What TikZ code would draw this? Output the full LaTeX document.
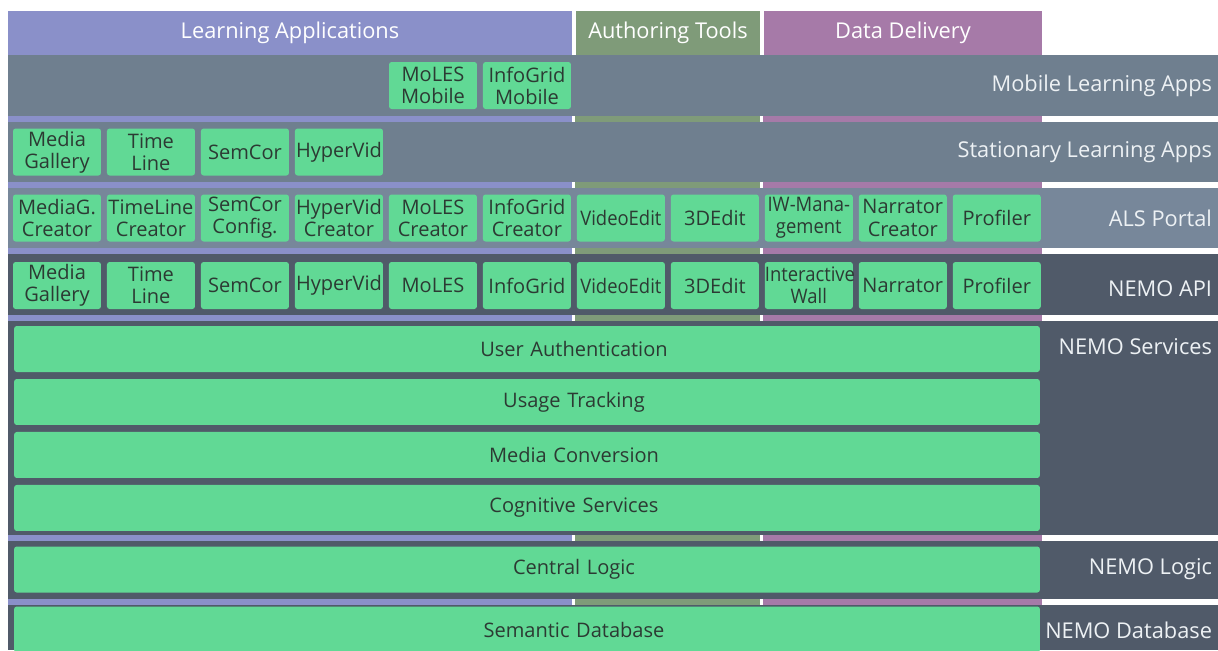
\documentclass[tikz,border=0pt]{standalone}
\usepackage{fontspec}
\setmainfont{Open Sans}
\newfontfamily\narrowfont[FakeStretch=0.92]{Open Sans}
\usepackage{tikz}
\usetikzlibrary{positioning}

\definecolor{learnblue}{HTML}{8A90C9}
\definecolor{authorgreen}{HTML}{7F9B79}
\definecolor{deliverypurple}{HTML}{A67AA8}
\definecolor{boxgreen}{HTML}{61D995}
\definecolor{boxtext}{HTML}{2C3A33}
\definecolor{bandlight}{HTML}{6F7F8F}
\definecolor{bandmid}{HTML}{77879A}
\definecolor{banddark}{HTML}{505A69}
\definecolor{labeltext}{HTML}{EDF1F4}

\newcommand{\appfont}{\fontsize{11.4}{12.6}\selectfont}
\newcommand{\layerfont}{\fontsize{12.4}{14}\selectfont}

\begin{document}
\begin{tikzpicture}[x=0.02cm, y=-0.02cm, node distance=0.12cm,
    every node/.style={inner sep=0pt, outer sep=0pt, align=center},
    app/.style={fill=boxgreen, text=boxtext, rounded corners=1.5pt, text width=1.76cm, minimum height=0.94cm, font=\appfont},
    service/.style={app, text width=20.52cm, minimum height=0.92cm, execute at begin node=\hspace*{1.88cm}},
    head/.style={text=white, minimum height=0.88cm, font=\layerfont},
    layer/.style={anchor=east, text=labeltext, font=\layerfont}]

    \useasboundingbox (0,0) rectangle (1218,650);

    % Layer bands and coloured separators
    \fill[banddark] (8,55) rectangle (1218,650);
    \fill[bandlight] (8,55) rectangle (1218,182);
    \fill[bandmid] (8,188) rectangle (1218,248);
    \foreach \s in {116,182,248,315,535,599} {
        \fill[white] (8,\s) rectangle (1218,\s+6);
        \fill[learnblue] (8,\s) rectangle (572,\s+6);
        \fill[authorgreen] (575,\s) rectangle (760,\s+6);
        \fill[deliverypurple] (763,\s) rectangle (1042,\s+6);
    }

    % Column headers
    \node[head, fill=learnblue, minimum width=11.28cm] (learn) at (290,33) {Learning Applications};
    \node[head, fill=authorgreen, minimum width=3.68cm] (author) at (668,33) {Authoring Tools};
    \node[head, fill=deliverypurple, minimum width=5.56cm] (deliver) at (903,33) {Data Delivery};

    % Mobile learning apps
    \node[app] (m5) at (433,85.5) {MoLES\\Mobile};
    \node[app, right=of m5] (m6) {InfoGrid\\Mobile};

    % Stationary learning apps
    \node[app] (s1) at (57,152) {Media\\Gallery};
    \node[app, right=of s1] (s2) {Time\\Line};
    \node[app, right=of s2] (s3) {SemCor};
    \node[app, right=of s3] (s4) {HyperVid};

    % ALS portal
    \node[app] (p1) at (57,218) {MediaG.\\Creator};
    \node[app, right=of p1] (p2) {TimeLine\\Creator};
    \node[app, right=of p2] (p3) {SemCor\\Config.};
    \node[app, right=of p3] (p4) {HyperVid\\Creator};
    \node[app, right=of p4] (p5) {MoLES\\Creator};
    \node[app, right=of p5] (p6) {InfoGrid\\Creator};
    \node[app, right=of p6] (p7) {\narrowfont VideoEdit};
    \node[app, right=of p7] (p8) {3DEdit};
    \node[app, right=of p8] (p9) {\narrowfont\mbox{IW-Mana-}\\\narrowfont gement};
    \node[app, right=of p9] (p10) {Narrator\\Creator};
    \node[app, right=of p10] (p11) {Profiler};

    % NEMO API
    \node[app] (a1) at (57,285.5) {Media\\Gallery};
    \node[app, right=of a1] (a2) {Time\\Line};
    \node[app, right=of a2] (a3) {SemCor};
    \node[app, right=of a3] (a4) {HyperVid};
    \node[app, right=of a4] (a5) {MoLES};
    \node[app, right=of a5] (a6) {InfoGrid};
    \node[app, right=of a6] (a7) {\narrowfont VideoEdit};
    \node[app, right=of a7] (a8) {3DEdit};
    \node[app, right=of a8] (a9) {\narrowfont Interactive\\\narrowfont Wall};
    \node[app, right=of a9] (a10) {Narrator};
    \node[app, right=of a10] (a11) {Profiler};

    % Services, logic and database
    \node[service] (auth) at (527,349) {User Authentication};
    \node[service, below=0.14cm of auth] (usage) {Usage Tracking};
    \node[service, below=0.14cm of usage] (conv) {Media Conversion};
    \node[service, below=0.14cm of conv] (cogn) {Cognitive Services};
    \node[service] (logic) at (527,569.5) {Central Logic};
    \node[service] (db) at (527,629.5) {Semantic Database};

    % Layer names
    \node[layer] (lmob) at (1212,86) {Mobile Learning Apps};
    \node[layer] (lsta) at (1212,152) {Stationary Learning Apps};
    \node[layer] (lals) at (1212,218) {ALS Portal};
    \node[layer] (lapi) at (1212,289) {NEMO API};
    \node[layer] (lserv) at (1212,347) {NEMO Services};
    \node[layer] (llog) at (1212,569.5) {NEMO Logic};
    \node[layer] (ldb) at (1212,630) {NEMO Database};

\end{tikzpicture}
\end{document}
